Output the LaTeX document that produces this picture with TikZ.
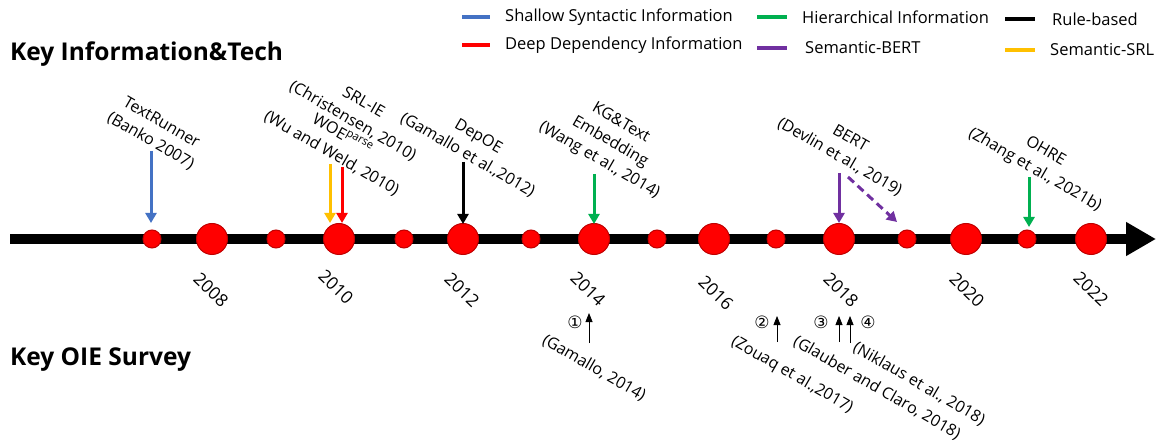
\documentclass[tikz,border=0pt]{standalone}
\usepackage{fontspec}
\setmainfont{Open Sans}
\newfontfamily\symfont{DejaVu Sans}
\usetikzlibrary{arrows.meta}
\definecolor{cblue}{HTML}{4472C4}
\definecolor{cred}{HTML}{FF0000}
\definecolor{cgreen}{HTML}{00B050}
\definecolor{cpurple}{HTML}{7030A0}
\definecolor{cyellow}{HTML}{FFC000}
\definecolor{circred}{HTML}{C00000}
\begin{document}
\begin{tikzpicture}[x=1pt,y=-1pt,
  lbl/.style={rotate=-30, align=center, font=\fontsize{16}{21.5}\selectfont, inner sep=0pt},
  yr/.style={rotate=-44, font=\fontsize{17.5}{19}\selectfont, inner sep=0pt},
  dotS/.style={circle, fill=cred, draw=circred, line width=1pt, minimum size=18pt, inner sep=0pt},
  dotB/.style={circle, fill=cred, draw=circred, line width=1pt, minimum size=31pt, inner sep=0pt},
  marrow/.style={line width=3pt, -{Triangle[width=11pt,length=10pt]}},
  sarrow/.style={line width=0.8pt, -{Triangle[width=7pt,length=9pt]}},
  leg/.style={line width=4pt},
  legtxt/.style={anchor=west, font=\fontsize{16.5}{19}\selectfont, inner sep=0pt},
  head/.style={anchor=west, font=\fontsize{24.5}{28}\selectfont\bfseries, inner sep=0pt},
  num/.style={font=\symfont\fontsize{17}{19}\selectfont, inner sep=0pt}
]
\useasboundingbox (0,0) rectangle (1158,443);

% headings
\node[head] (h1) at (10,54) {Key Information\&Tech};
\node[head] (h2) at (10,360) {Key OIE Survey};

% legend
\draw[leg,cblue] (462,17) -- (490,17);
\node[legtxt] (t1) at (505,17) {Shallow Syntactic Information};
\draw[leg,cgreen] (757,17) -- (787,17);
\node[legtxt] (t2) at (802,17) {Hierarchical Information};
\draw[leg,black] (1005,19) -- (1035,19);
\node[legtxt] (t3) at (1052,19) {Rule-based};
\draw[leg,cred] (462,45) -- (490,45);
\node[legtxt] (t4) at (505,45) {Deep Dependency Information};
\draw[leg,cpurple] (757,48) -- (787,48);
\node[legtxt] (t5) at (805,48) {Semantic-BERT};
\draw[leg,cyellow] (1005,50) -- (1035,50);
\node[legtxt] (t6) at (1050,50) {Semantic-SRL};

% timeline
\coordinate (tl0) at (10,239);
\coordinate (tl1) at (1156,239);
\draw[line width=10pt, -{Triangle[width=32pt,length=30pt]}] (tl0) -- (tl1);

% dots
\foreach \x [count=\i] in {152,276,404,531,657,776,907,1027}
  \node[dotS] (s\i) at (\x,239) {};
\foreach \x [count=\i] in {212,339,463,594,714,839,966,1091}
  \node[dotB] (b\i) at (\x,239) {};

% years
\node[yr] (y1) at (211,290) {2008};
\node[yr] (y2) at (336,287) {2010};
\node[yr] (y3) at (462,290) {2012};
\node[yr] (y4) at (588,289) {2014};
\node[yr] (y5) at (716,293) {2016};
\node[yr] (y6) at (841,290) {2018};
\node[yr] (y7) at (967,290) {2020};
\node[yr] (y8) at (1091,289) {2022};

% top labels
\node[lbl] (lTR) at (156,132) {TextRunner\\(Banko 2007)};
\node[lbl] (lSRL) at (358,112) {SRL-IE\\(Christensen, 2010)};
\node[lbl] (lWOE) at (337,144) {WOE\textsuperscript{parse}\\(Wu and Weld, 2010)};
\node[lbl] (lDep) at (473,146) {DepOE\\(Gamallo et al.,2012)};
\node[lbl] (lKG) at (610,142) {KG\&Text\\Embedding\\(Wang et al., 2014)};
\node[lbl] (lBERT) at (845,148) {BERT\\(Devlin et al., 2019)};
\node[lbl] (lOHRE) at (1040,161) {OHRE\\(Zhang et al., 2021b)};

% top arrows
\coordinate (a1s) at (151,151); \coordinate (a1e) at (151,223);
\coordinate (a2s) at (330,164); \coordinate (a2e) at (330,223);
\coordinate (a3s) at (342,167); \coordinate (a3e) at (342,223);
\coordinate (a4s) at (463,162); \coordinate (a4e) at (463,224);
\coordinate (a5s) at (594,174); \coordinate (a5e) at (594,224);
\coordinate (a6s) at (839,173); \coordinate (a6e) at (839,223);
\coordinate (a7s) at (848,177); \coordinate (a7e) at (897,222);
\coordinate (a8s) at (1029,177); \coordinate (a8e) at (1029,227);
\draw[marrow,cblue] (a1s) -- (a1e);
\draw[marrow,cyellow] (a2s) -- (a2e);
\draw[marrow,cred] (a3s) -- (a3e);
\draw[marrow,black] (a4s) -- (a4e);
\draw[marrow,cgreen] (a5s) -- (a5e);
\draw[marrow,cpurple] (a6s) -- (a6e);
\draw[marrow,cpurple,dash pattern=on 8pt off 5pt] (a7s) -- (a7e);
\draw[marrow,cgreen] (a8s) -- (a8e);

% bottom
\node[num] (n1) at (575,322) {①};
\node[num] (n2) at (762,322) {②};
\node[num] (n3) at (821,322) {③};
\node[num] (n4) at (868,322) {④};
\coordinate (b1s) at (589,343); \coordinate (b1e) at (589,313);
\coordinate (b2s) at (777,342); \coordinate (b2e) at (777,316);
\coordinate (b3s) at (839,342); \coordinate (b3e) at (839,316);
\coordinate (b4s) at (850,343); \coordinate (b4e) at (850,316);
\draw[sarrow] (b1s) -- (b1e);
\draw[sarrow] (b2s) -- (b2e);
\draw[sarrow] (b3s) -- (b3e);
\draw[sarrow] (b4s) -- (b4e);
\node[lbl] (g1) at (594,368) {(Gamallo, 2014)};
\node[lbl] (g2) at (792,375) {(Zouaq et al.,2017)};
\node[lbl] (g3) at (877,388) {(Glauber and Claro, 2018)};
\node[lbl] (g4) at (919,384) {(Niklaus et al., 2018)};
\end{tikzpicture}
\end{document}
